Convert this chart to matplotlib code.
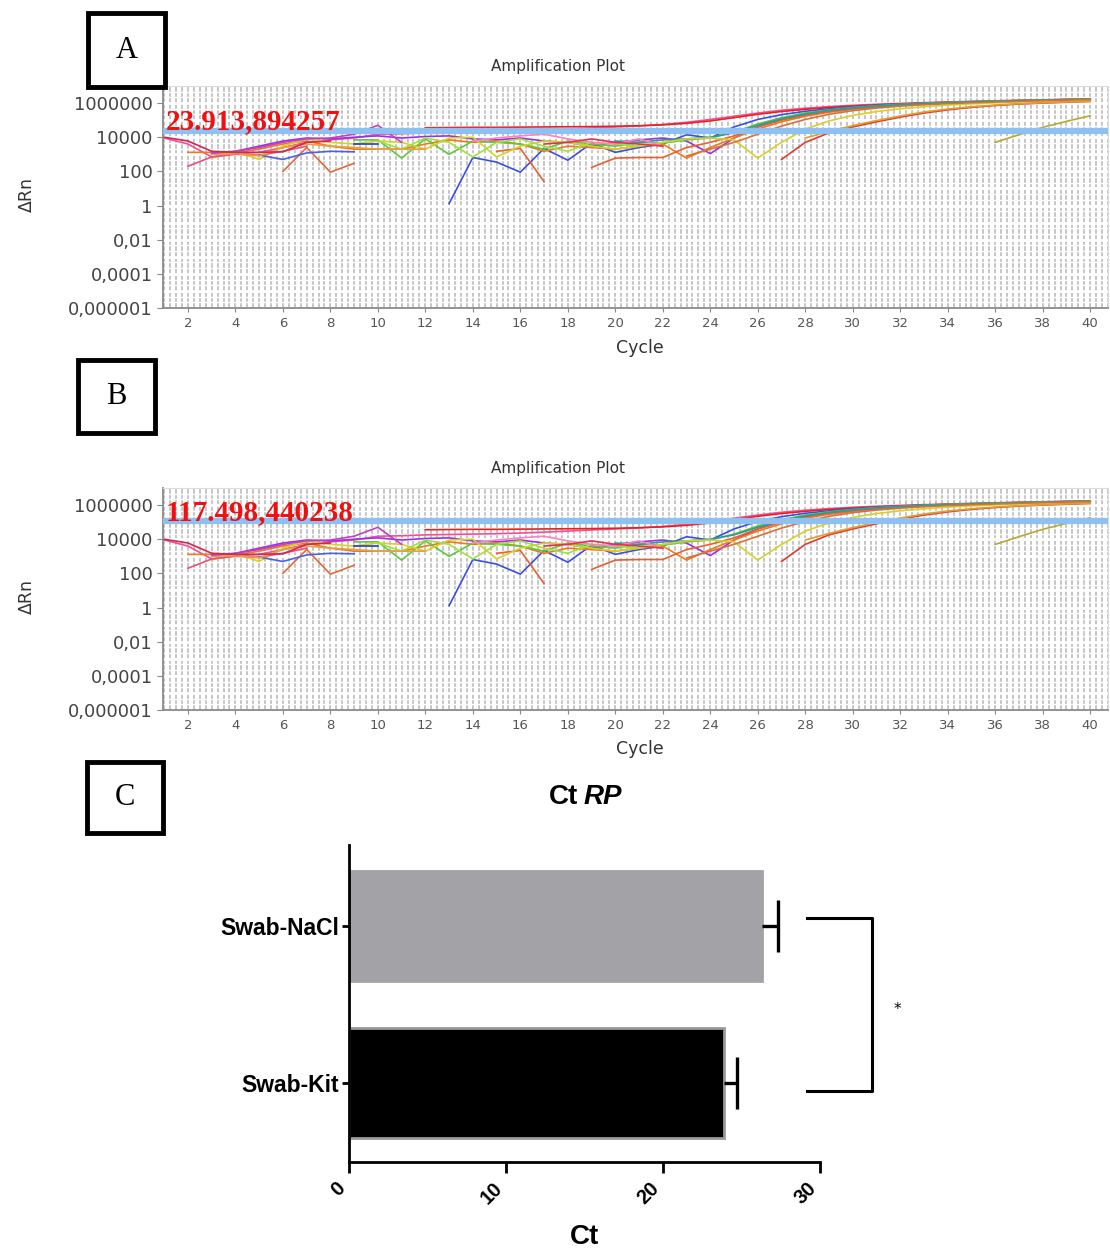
import numpy as np
import matplotlib.pyplot as plt
from matplotlib.patches import Rectangle
import matplotlib.transforms as mtransforms

nan = np.nan

# --- amplification curves (same run drawn in A and B) ---
# first cycle of each curve, then its delta Rn values cycle by cycle (nan = not shown)
curve_colors = ['#f0509a', '#e82020', '#3a4fe0', '#9a30e8', '#f07818', '#e86030',
                '#5cc83c', '#2a9a9a', '#d8d028', '#d87038', '#e03a30', '#e0a030',
                '#b8a830', '#e06a3a', '#e8507a', '#4a60e8', '#2040c0', '#a0e040',
                '#e8a040', '#c040c0', '#ff80c0', '#d02850', '#e8304a']
curve_starts = [1, 12, 13, 1, 2, 15, 9, 20, 3, 23, 27, 28, 36,
                6, 2, 5, 9, 10, 3, 3, 14, 1, 17]
curve_values = [
    [9000, 4000, 700, 1100, 1300, 2500, 5000, 7000, 9000, 15000, 16000, 18000, 19000, 20000,
     21000, 23000, 26000, 30000, 35000, 40000, 46000, 56000, 75000, 110000, 170000, 260000,
     380000, 500000, 620000, 740000, 850000, 960000, 1060000, 1160000, 1260000, 1360000,
     1460000, 1560000, 1660000, 1760000],
    [36000, 37000, 38000, 38000, 39000, 40000, 41000, 42000, 44000, 47000, 53000, 65000,
     90000, 140000, 220000, 320000, 430000, 550000, 670000, 790000, 900000, 1000000, 1100000,
     1200000, 1300000, 1400000, 1500000, 1600000, 1700000],
    [1.3, 650, 350, 90, 2200, 450, 4500, 1300, 2500, 4000, 14000, 9000, 40000, 110000, 210000,
     330000, 460000, 600000, 730000, 850000, 960000, 1060000, 1160000, 1260000, 1360000,
     1460000, 1550000, 1650000],
    [nan, nan, 1000, 1500, 3000, 6000, 9000, 8000, 10000, 12000, 9000, 11000, 12000, 8000,
     7000, 9000, 6000, 5000, 3000, 5000, 7000, 9000, 6000, 1100, 9000, 40000, 110000, 220000,
     350000, 500000, 640000, 780000, 900000, 1020000, 1130000, 1240000, 1340000, 1440000,
     1540000, 1640000],
    [1300, 1300, 1200, 2000, 4000, 6000, 3000, 2000, 2000, 2000, 4000, 7000, 5000, 6000, 4000,
     1500, 3000, 2500, 2000, 3000, 4000, 600, 2500, 9000, 30000, 80000, 170000, 290000,
     430000, 580000, 730000, 870000, 1000000, 1120000, 1230000, 1340000, 1450000, 1550000,
     1650000],
    [1500, 2200, 25, nan, 170, 600, 650, 650, 2500, 5000, 12000, 40000, 100000, 200000,
     330000, 480000, 630000, 780000, 920000, 1050000, 1170000, 1290000, 1400000, 1500000,
     1600000, 1700000],
    [7000, 7000, 600, 8000, 1000, 6000, 5000, 4000, 2000, 6000, 4000, 3000, 5000, 4500, 7000,
     9000, 20000, 60000, 140000, 260000, 400000, 550000, 700000, 840000, 970000, 1090000,
     1200000, 1300000, 1400000, 1500000, 1600000, 1650000],
    [6000, 5000, 7000, 8000, 10000, 18000, 50000, 120000, 230000, 370000, 520000, 670000,
     810000, 940000, 1060000, 1170000, 1280000, 1380000, 1480000, 1580000, 1680000],
    [600, 1500, 500, 3000, 8000, 5000, 4000, 6000, 5000, 2000, 9000, 10000, 700, 3000, 6000,
     5000, 3000, 2000, 3000, 5000, 8000, 9000, 7000, 600, 5000, 30000, 90000, 190000, 320000,
     460000, 610000, 760000, 900000, 1030000, 1150000, 1260000, 1370000, 1480000],
    [800, 2000, 5000, 15000, 45000, 110000, 220000, 360000, 510000, 660000, 800000, 930000,
     1050000, 1160000, 1270000, 1380000, 1480000, 1580000],
    [500, 5000, 18000, 40000, 80000, 150000, 260000, 400000, 560000, 720000, 880000, 1000000,
     1120000, 1250000],
    [9000, 22000, 48000, 95000, 175000, 300000, 450000, 610000, 770000, 910000, 1040000,
     1160000, 1270000],
    [5000, 14000, 38000, 85000, 180000],
    [100, 2500, 90, 300],
    [200, 700, 1000, 900, 1500, 3000],
    [900, 500, 1200, 1500, 1400],
    [4000, 4000],
    [6000, 2000, 9000, 5000, 700, 5000, 8000, 3000, 1500, 5000, 4000, 3000],
    [1000, 1100, 800, 2500, 4000, 3000, 2500, 2000, 2000, 2000],
    [1200, 1500, 2500, 5000, 8000, 9000, 15000, 50000, 5000],
    [6000, 9000, 12000, 15000, 8000, 5000, 4000, 8000, 3000],
    [10000, 6000, 1500, 1300, 1300, 1400, 5000, 6000],
    [4000, 5000, 8000, 5000, 4000, 3000],
]

thresholds = [23913.894257, 117498.440238]
threshold_labels = ['23.913,894257', '117.498,440238']
ytick_values = [1e6, 1e4, 1e2, 1, 1e-2, 1e-4, 1e-6]
ytick_labels = ['1000000', '10000', '100', '1', '0,01', '0,0001', '0,000001']
xtick_values = list(range(2, 41, 2))

# --- panel C ---
groups = ['Swab-Kit', 'Swab-NaCl']
ct_mean = [23.9, 26.3]
ct_err = [0.8, 1.0]
bar_colors = ['black', '#a3a3a7']
bar_edges = ['#9a9a9a', '#a3a3a7']

W, H = 1110, 1249
fig = plt.figure(figsize=(W / 100, H / 100), dpi=100)
fig.patch.set_facecolor('white')


def fx(x):
    return x / W


def fy(y):
    return 1 - y / H


def boite(x0, y0, x1, y1, lettre):
    fig.add_artist(Rectangle((fx(x0), fy(y1)), fx(x1) - fx(x0), fy(y0) - fy(y1),
                             transform=fig.transFigure, fill=False, lw=3.5, ec='black'))
    fig.text(fx((x0 + x1) / 2), fy((y0 + y1) / 2), lettre, family='Liberation Serif',
             fontsize=22, ha='center', va='center')


def amp_panel(top, bottom, thr, thr_label, title_y, cycle_y):
    ax = fig.add_axes([fx(163), fy(bottom), fx(1108) - fx(163), fy(top) - fy(bottom)])
    ax.set_yscale('log')
    ax.set_ylim(1e-6, 1e7)
    ax.set_xlim(0.95, 40.75)
    # papier quadrillé
    for xv in np.arange(1, 40.8, 0.25):
        ax.axvline(xv, color='#c6c6c6', lw=1.4, zorder=0)
    for k in range(-6, 7):
        for f in (0, 1 / 3, 2 / 3):
            ax.axhline(10 ** (k + f), color='white', lw=2.0 if f == 0 else 1.0, zorder=0.5)
    for col, st, vals in zip(curve_colors, curve_starts, curve_values):
        cyc = np.arange(st, st + len(vals))
        ax.plot(cyc, vals, color=col, lw=1.2, zorder=2)
    ax.axhline(thr, color='#8ec0f2', lw=4.5, zorder=3)
    trans = mtransforms.blended_transform_factory(ax.transAxes, ax.transData)
    ax.text(0.003, thr * 1.2, thr_label, transform=trans, color='#ee1111',
            family='Liberation Serif', weight='bold', fontsize=21, ha='left',
            va='baseline', zorder=4)
    ax.set_yticks(ytick_values)
    ax.set_yticklabels(ytick_labels)
    ax.minorticks_off()
    ax.set_xticks(xtick_values)
    ax.tick_params(axis='y', length=4, color='#888888', labelsize=13, labelcolor='#444444')
    ax.tick_params(axis='x', length=3, color='#888888', labelsize=9.5, labelcolor='#555555')
    for s in ['left', 'bottom']:
        ax.spines[s].set_color('#8a8a8a')
        ax.spines[s].set_linewidth(1.3)
    for s in ['top', 'right']:
        ax.spines[s].set_color('#dddddd')
    fig.text(fx(558), fy(title_y), 'Amplification Plot', fontsize=11, color='#333333',
             weight='medium', ha='center', va='center')
    fig.text(fx(640), fy(cycle_y), 'Cycle', fontsize=12.5, color='#333333',
             weight='medium', ha='center', va='center')
    fig.text(fx(27), fy((top + bottom) / 2 - 3), 'ΔRn', fontsize=12.5, color='#333333',
             rotation=90, ha='center', va='center')
    return ax


amp_panel(86, 308, thresholds[0], threshold_labels[0], 67, 348)
amp_panel(488, 710, thresholds[1], threshold_labels[1], 469, 749)

boite(88, 13, 165, 87, 'A')
boite(78, 360, 155, 433, 'B')
boite(87, 762, 163, 833, 'C')

# --- panel C: barres horizontales ---
sans = ['Liberation Sans', 'DejaVu Sans']
axc = fig.add_axes([fx(349), fy(1162), fx(820) - fx(349), fy(845) - fy(1162)])
pos = np.arange(len(groups))
axc.barh(pos, ct_mean, height=0.70, color=bar_colors, edgecolor=bar_edges, lw=2, zorder=2)
_, caps, _ = axc.errorbar(ct_mean, pos, xerr=[[0] * len(ct_err), ct_err], fmt='none',
                          ecolor='black', elinewidth=2.4, capsize=19, capthick=2.4, zorder=3)
caps[0].set_visible(False)
axc.set_xlim(0, 30)
axc.set_ylim(-0.503, 1.516)
axc.spines['top'].set_visible(False)
axc.spines['right'].set_visible(False)
for s in ['left', 'bottom']:
    axc.spines[s].set_linewidth(2)
axc.set_yticks(pos)
axc.set_yticklabels(groups, family=sans, weight='bold', fontsize=16.5)
axc.set_xticks([0, 10, 20, 30])
axc.set_xticklabels(['0', '10', '20', '30'], family=sans, weight='bold', fontsize=14.5,
                    rotation=45, ha='right')
axc.tick_params(axis='y', length=5, width=2, pad=2)
axc.tick_params(axis='x', length=8, width=2, pad=4)

# crochet de significativité
axc.plot([29.2, 33.3, 33.3, 29.2], [1.05, 1.05, -0.05, -0.05], color='black', lw=2.2,
         clip_on=False)
axc.text(34.9, 0.47, '*', fontsize=11, ha='center', va='center', clip_on=False)

fig.text(fx(578), fy(797), 'Ct', family=sans, weight='bold', fontsize=20,
         ha='right', va='center')
fig.text(fx(584), fy(797), 'RP', family=sans, weight='bold', style='italic',
         fontsize=20, ha='left', va='center')
fig.text(fx(585), fy(1237), 'Ct', family=sans, weight='bold', fontsize=20,
         ha='center', va='center')

fig.savefig('out.png', dpi=100)
